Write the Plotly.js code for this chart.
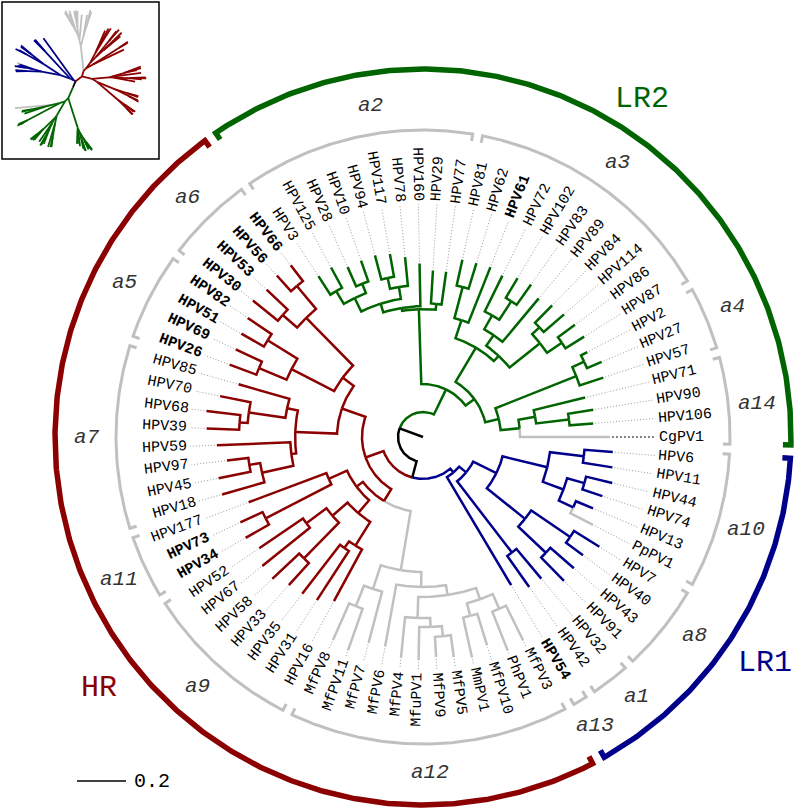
<!DOCTYPE html>
<html><head><meta charset="utf-8">
<script src="https://cdn.plot.ly/plotly-3.0.1.min.js"></script>
<style>html,body{margin:0;padding:0;background:#fff}#chart{width:800px;height:812px}</style>
</head><body><div id="chart"></div>
<script>
// ================= DATA (branch lengths in substitutions / site) =================
const alpha14 = "(CgPV1:0.367,((HPV106:0.097,HPV90:0.104):0.135,HPV71:0.216):0.069)";
const alpha4  = "(HPV57:0.102,(HPV27:0.065,HPV2:0.029):0.053)";
const alpha3  = "((((HPV87:0.090,HPV86:0.086):0.073,(HPV114:0.110,HPV84:0.100):0.041):0.159,(HPV89:0.231,((HPV83:0.102,HPV102:0.094):0.090,HPV72:0.163):0.065):0.053):0.029,(HPV61:0.244,(HPV62:0.109,HPV81:0.108):0.131):0.078)";
const alpha2  = "((HPV77:0.135,HPV29:0.135):0.024,(HPV160:0.174,((HPV78:0.118,(HPV117:0.094,HPV94:0.102):0.045):0.049,((HPV10:0.090,HPV28:0.086):0.041,(HPV125:0.094,HPV3:0.090):0.061):0.061):0.037):0.012)";
const alpha6  = "((HPV66:0.082,HPV56:0.086):0.122,(HPV53:0.118,HPV30:0.131):0.078)";
const alpha5  = "((HPV82:0.118,HPV51:0.106):0.143,(HPV69:0.118,HPV26:0.117):0.122)";
const alpha7  = "((HPV85:0.216,(HPV70:0.127,(HPV68:0.139,HPV39:0.133):0.033):0.151):0.045,(HPV59:0.300,((HPV97:0.088,HPV45:0.133):0.045,HPV18:0.180):0.131):0.020)";
const alpha11 = "(HPV177:0.339,(HPV73:0.100,HPV34:0.110):0.302)";
const alpha9  = "(((HPV52:0.216,HPV67:0.249):0.102,(HPV58:0.151,HPV33:0.122):0.204):0.082,((HPV35:0.253,HPV31:0.239):0.033,HPV16:0.240):0.114)";
const alpha12 = "(((MfPV8:0.163,MfPV11:0.180):0.090,MfPV7:0.216):0.102,(MfPV6:0.257,((MfPV4:0.167,(MfuPV1:0.135,(MfPV9:0.082,MfPV5:0.090):0.041):0.037):0.086,((MmPV1:0.167,MfPV10:0.135):0.053,(PhPV1:0.171,MfPV3:0.159):0.065):0.049):0.041):0.061)";
const alpha13 = "HPV54";
const alpha1  = "(HPV42:0.155,HPV32:0.158)";
const alpha8  = "((HPV91:0.133,HPV43:0.127):0.155,(HPV40:0.086,HPV7:0.122):0.192)";
const alpha10 = "(((PpPV1:0.104,HPV13:0.076):0.065,(HPV74:0.086,HPV44:0.110):0.073):0.090,(HPV11:0.122,HPV6:0.116):0.139)";

const lr2 = `(((${alpha14}:0.078,${alpha4}:0.355):0.057,${alpha3}:0.163):0.045,${alpha2}:0.306)`;
const hr  = `(((${alpha6}:0.273,${alpha5}:0.196):0.057,${alpha7}:0.171):0.102,((${alpha11}:0.082,${alpha9}:0.069):0.033,${alpha12}:0.245):0.057)`;
const lr1 = `(${alpha13}:0.513,(${alpha1}:0.367,(${alpha8}:0.200,${alpha10}:0.188):0.106):0.037)`;
const fullTree = `(${lr2}:0.114,(${hr}:0.078,${lr1}:0.020):0.069):0.102;`;

const riskNames = ['LR2', 'HR', 'LR1'];
const riskTrees = [lr2, hr, lr1];
const subgroupNames = ['a14','a4','a3','a2','a6','a5','a7','a11','a9','a12','a13','a1','a8','a10'];
const subgroupTrees = [alpha14, alpha4, alpha3, alpha2, alpha6, alpha5, alpha7, alpha11, alpha9, alpha12, alpha13, alpha1, alpha8, alpha10];
const boldTypes = ['HPV61','HPV66','HPV56','HPV53','HPV30','HPV82','HPV51','HPV69','HPV26','HPV73','HPV34','HPV54'];
const scaleBarValue = 0.2;

// ================= STYLE / LAYOUT CONSTANTS =================
const W = 800, H = 812, CX = 423, CY = 437;
const pxPerUnit = 245;
const riskColors = ['#006400', '#8b0000', '#00008b'];
const otherColor = '#c0c0c0';
const FONT = 'Liberation Mono, Courier New, monospace';
const fontSize = 15, charW = 0.6 * fontSize, rLabel = 236;
const rBracket = 307, bracketExt = 1.35, bracketTick = 7, rSubLabel = 336;
const rOuter = 368, outerExt = 1.25, outerTick = 8;
const subLabelTweak = {a2: -3.5, a14: -1.1, a8: 2.5, a1: 1.9};
const riskLabelPos = {LR2: [57, 403], HR: [217.7, 410], LR1: [326.5, 410]};

// ================= NEWICK PARSER =================
function parseNewick(s) {
  let i = 0;
  function node() {
    const n = {children: [], name: '', len: 0};
    if (s[i] === '(') {
      i++;
      n.children.push(node());
      while (s[i] === ',') { i++; n.children.push(node()); }
      i++;
    }
    let name = '';
    while (i < s.length && !',():;'.includes(s[i])) name += s[i++];
    n.name = name.trim();
    if (s[i] === ':') {
      i++; let num = '';
      while (i < s.length && !',();'.includes(s[i])) num += s[i++];
      n.len = parseFloat(num);
    }
    return n;
  }
  return node();
}
function leavesOf(n, out = []) { if (!n.children.length) out.push(n); else n.children.forEach(c => leavesOf(c, out)); return out; }
function leafNames(str) { return leavesOf(parseNewick(str)).map(l => l.name); }

// ================= TREE LAYOUT =================
const tree = parseNewick(fullTree);
const leaves = leavesOf(tree);
const N = leaves.length, step = 360 / N;
const leafIndex = {};
leaves.forEach((l, i) => { l.ang = i * step; leafIndex[l.name] = i; });
(function setAng(n) { if (n.children.length) { n.children.forEach(setAng); n.ang = (n.children[0].ang + n.children[n.children.length - 1].ang) / 2; } })(tree);
(function setDepth(n, d) { n.depth = d + n.len; n.r = n.depth * pxPerUnit; n.children.forEach(c => setDepth(c, n.depth)); })(tree, 0);

const leafColor = {};
riskTrees.forEach((t, k) => leafNames(t).forEach(nm => { leafColor[nm] = nm.startsWith('HPV') ? riskColors[k] : otherColor; }));
function nodeColor(n) {
  const set = new Set();
  leavesOf(n).forEach(l => { const c = leafColor[l.name]; if (c !== otherColor) set.add(c); });
  if (set.size === 1) return [...set][0];
  if (set.size === 0) return otherColor;
  return '#000000';
}
const D2R = Math.PI / 180;
const px = (r, a) => r * Math.cos(a * D2R), py = (r, a) => r * Math.sin(a * D2R);
function arcInto(xs, ys, r, a0, a1) {
  const n = Math.max(1, Math.ceil(Math.abs(a1 - a0) / 0.4));
  for (let k = 0; k <= n; k++) { const a = a0 + (a1 - a0) * k / n; xs.push(px(r, a)); ys.push(py(r, a)); }
}
const segs = {};
function seg(color) { if (!segs[color]) segs[color] = {x: [], y: []}; return segs[color]; }
(function draw(n, parent) {
  const s = seg(nodeColor(n));
  if (parent) {
    arcInto(s.x, s.y, parent.r, parent.ang, n.ang);
  } else { s.x.push(0); s.y.push(0); }
  s.x.push(px(n.r, n.ang)); s.y.push(py(n.r, n.ang));
  s.x.push(null); s.y.push(null);
  n.children.forEach(c => draw(c, n));
})(tree, null);

const traces = [];
const order = [otherColor, riskColors[0], riskColors[1], riskColors[2], '#000000'];
order.forEach(c => { if (segs[c]) traces.push({type: 'scatter', mode: 'lines', x: segs[c].x, y: segs[c].y, line: {color: c, width: 2.5}, hoverinfo: 'skip', xaxis: 'x', yaxis: 'y'}); });

// dotted leaders
const dx = [], dy = [], cx2 = [], cy2 = [];
leaves.forEach(l => {
  const a = l.ang, r0 = l.r + 2, r1 = rLabel - 3;
  const X = l.name === 'CgPV1' ? cx2 : dx, Y = l.name === 'CgPV1' ? cy2 : dy;
  X.push(px(r0, a), px(r1, a), null); Y.push(py(r0, a), py(r1, a), null);
});
traces.push({type: 'scatter', mode: 'lines', x: dx, y: dy, line: {color: '#9a9a9a', width: 1, dash: '1px,2px'}, hoverinfo: 'skip'});
traces.push({type: 'scatter', mode: 'lines', x: cx2, y: cy2, line: {color: '#000', width: 1.2, dash: '2px,2px'}, hoverinfo: 'skip'});

const annotations = [];
const norm = a => ((a + 180) % 360 + 360) % 360 - 180;
leaves.forEach(l => {
  const a = l.ang, w = l.name.length * charW, rc = rLabel + w / 2;
  const right = Math.cos(a * D2R) >= 0;
  annotations.push({
    x: px(rc, a), y: py(rc, a), xref: 'x', yref: 'y', showarrow: false,
    text: boldTypes.includes(l.name) ? `<b>${l.name}</b>` : l.name,
    textangle: norm(right ? -a : 180 - a), xanchor: 'center', yanchor: 'middle',
    font: {family: FONT, size: fontSize, color: '#000'}
  });
});

// subgroup brackets
const bx = [], by = [];
subgroupTrees.forEach((t, k) => {
  const idx = leafNames(t).map(nm => leafIndex[nm]);
  const a0 = Math.min(...idx) * step - bracketExt, a1 = Math.max(...idx) * step + bracketExt;
  bx.push(px(rBracket - bracketTick, a0)); by.push(py(rBracket - bracketTick, a0));
  arcInto(bx, by, rBracket, a0, a1);
  bx.push(px(rBracket - bracketTick, a1), null); by.push(py(rBracket - bracketTick, a1), null);
  const am = (a0 + a1) / 2 + (subLabelTweak[subgroupNames[k]] || 0);
  annotations.push({x: px(rSubLabel, am), y: py(rSubLabel, am), xref: 'x', yref: 'y', showarrow: false,
    text: `<i>${subgroupNames[k]}</i>`, xanchor: 'center', yanchor: 'middle',
    font: {family: FONT, size: 21, color: '#333'}});
});
traces.push({type: 'scatter', mode: 'lines', x: bx, y: by, line: {color: '#c0c0c0', width: 3}, hoverinfo: 'skip'});

// risk arcs
riskTrees.forEach((t, k) => {
  const idx = leafNames(t).map(nm => leafIndex[nm]);
  const a0 = Math.min(...idx) * step - outerExt, a1 = Math.max(...idx) * step + outerExt;
  const xs = [px(rOuter - outerTick, a0)], ys = [py(rOuter - outerTick, a0)];
  arcInto(xs, ys, rOuter, a0, a1);
  xs.push(px(rOuter - outerTick, a1)); ys.push(py(rOuter - outerTick, a1));
  traces.push({type: 'scatter', mode: 'lines', x: xs, y: ys, line: {color: riskColors[k], width: 5.5}, hoverinfo: 'skip'});
  const [la, lr] = riskLabelPos[riskNames[k]];
  annotations.push({x: px(lr, la), y: py(lr, la), xref: 'x', yref: 'y', showarrow: false, text: riskNames[k],
    xanchor: 'center', yanchor: 'middle', font: {family: FONT, size: 30, color: riskColors[k]}});
});

// scale bar
const sbX0 = 77 - CX, sbY = CY - 781;
traces.push({type: 'scatter', mode: 'lines', x: [sbX0, sbX0 + scaleBarValue * pxPerUnit], y: [sbY, sbY], line: {color: '#000', width: 1.5}, hoverinfo: 'skip'});
annotations.push({x: sbX0 + scaleBarValue * pxPerUnit + 6, y: sbY, xref: 'x', yref: 'y', showarrow: false, text: String(scaleBarValue),
  xanchor: 'left', yanchor: 'middle', font: {family: FONT, size: 20, color: '#000'}});

// ================= INSET (unrooted equal-angle view of same tree) =================
(function count(n) { n.nl = n.children.length ? n.children.reduce((s, c) => s + count(c), 0) : 1; return n.nl; })(tree);
(function eq(n, a0, wedge, x, y) {
  n.ix = x; n.iy = y; let s = a0;
  n.children.forEach(c => {
    const w = wedge * c.nl / n.nl, a = s + w / 2;
    eq(c, s, w, x + c.len * Math.cos(a), y + c.len * Math.sin(a)); s += w;
  });
})(tree, 0, 2 * Math.PI, 0, 0);
const grayLeaves = leafNames(alpha12).map(nm => leaves[leafIndex[nm]]);
const gmx = grayLeaves.reduce((s, l) => s + l.ix, 0), gmy = grayLeaves.reduce((s, l) => s + l.iy, 0);
const rot = 87 * D2R - Math.atan2(gmy, gmx);
const allNodes = []; (function all(n) { allNodes.push(n); n.children.forEach(all); })(tree);
allNodes.forEach(n => { const x = n.ix, y = n.iy; n.ix = x * Math.cos(rot) - y * Math.sin(rot); n.iy = x * Math.sin(rot) + y * Math.cos(rot); });
const iseg = {};
allNodes.forEach(n => n.children.forEach(c => {
  const col = nodeColor(c); if (!iseg[col]) iseg[col] = {x: [], y: []};
  iseg[col].x.push(n.ix, c.ix, null); iseg[col].y.push(n.iy, c.iy, null);
}));
order.forEach(c => { if (iseg[c]) traces.push({type: 'scatter', mode: 'lines', x: iseg[c].x, y: iseg[c].y, line: {color: c, width: 1.8}, hoverinfo: 'skip', xaxis: 'x2', yaxis: 'y2'}); });
const ixs = allNodes.map(n => n.ix), iys = allNodes.map(n => n.iy);
const xmn = Math.min(...ixs), xmx = Math.max(...ixs), ymn = Math.min(...iys), ymx = Math.max(...iys);
const half = Math.max(xmx - xmn, ymx - ymn) / 2 * 1.1, mx = (xmn + xmx) / 2, my = (ymn + ymx) / 2;

const layout = {
  width: W, height: H, margin: {l: 0, r: 0, t: 0, b: 0}, paper_bgcolor: '#fff', plot_bgcolor: 'rgba(0,0,0,0)',
  showlegend: false, hovermode: false,
  xaxis: {domain: [0, 1], range: [-CX, W - CX], visible: false, fixedrange: true},
  yaxis: {domain: [0, 1], range: [CY - H, CY], visible: false, fixedrange: true},
  xaxis2: {domain: [3 / W, 158 / W], range: [mx - half, mx + half], visible: false, anchor: 'y2'},
  yaxis2: {domain: [1 - 158 / H, 1 - 3 / H], range: [my - half, my + half], visible: false, anchor: 'x2'},
  shapes: [{type: 'rect', xref: 'paper', yref: 'paper', x0: 2 / W, x1: 159 / W, y0: 1 - 159 / H, y1: 1 - 2 / H, line: {color: '#000', width: 1.5}}],
  annotations: annotations
};
Plotly.newPlot('chart', traces, layout, {staticPlot: true, displayModeBar: false});
</script></body></html>
